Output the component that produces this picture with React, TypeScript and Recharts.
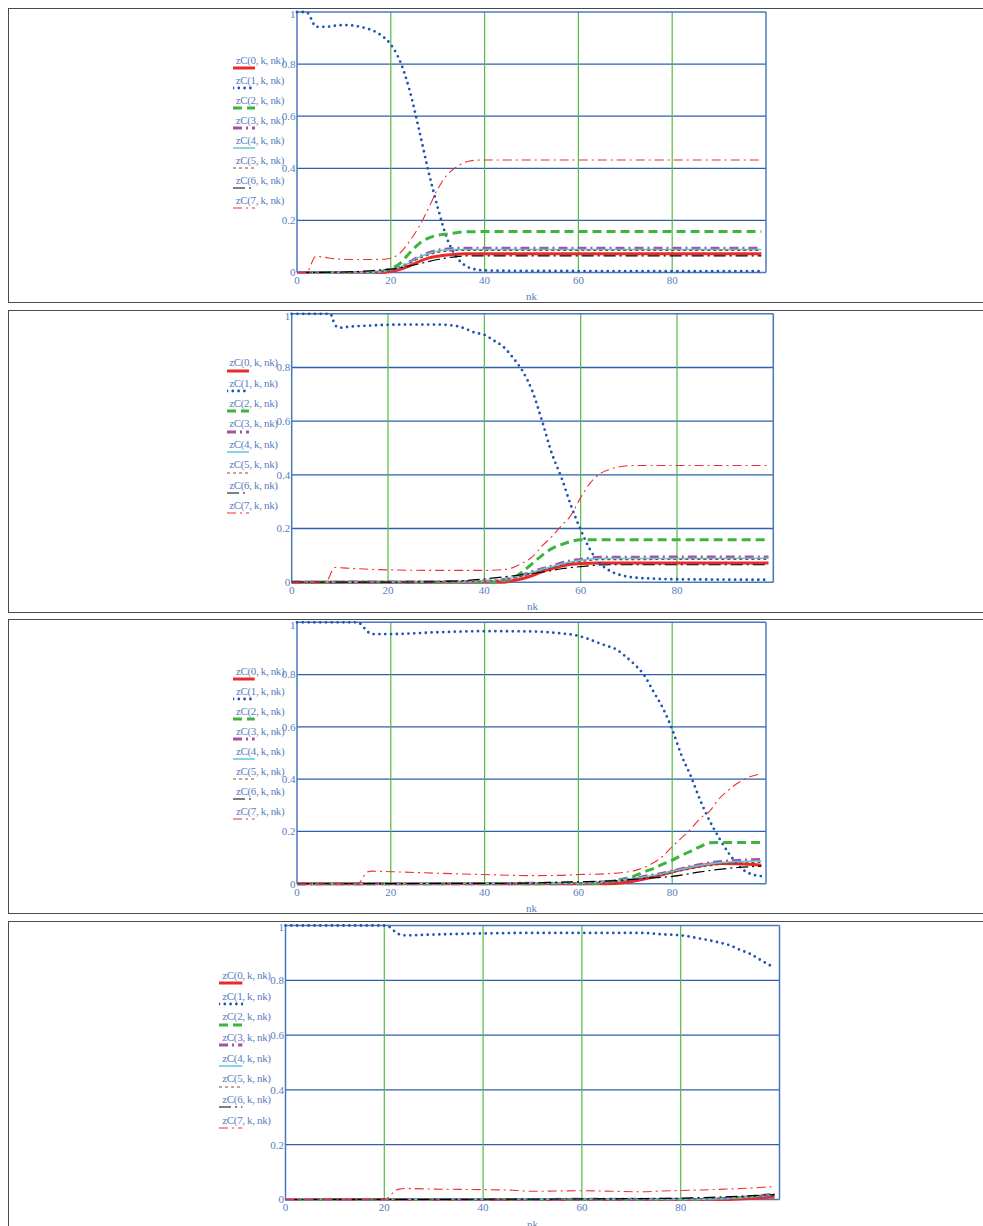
import React from 'react';
import { LineChart, Line, XAxis, YAxis, ReferenceLine, Legend } from 'recharts';

type Pt = [number, number];

// ---- tick labels / categories ----
const xTicks = [0, 20, 40, 60, 80];
const yTicks = [0, 0.2, 0.4, 0.6, 0.8, 1];
const vGrid = [20, 40, 60, 80];
const hGrid = [0.2, 0.4, 0.6, 0.8];
const seriesNames = ['zC(0, k, nk)', 'zC(1, k, nk)', 'zC(2, k, nk)', 'zC(3, k, nk)', 'zC(4, k, nk)', 'zC(5, k, nk)', 'zC(6, k, nk)', 'zC(7, k, nk)'];

// ---- panel 1 ----
const p1z0: Pt[] = [[0,0],[18,0],[20,0.004],[22,0.012],[24,0.025],[26,0.042],[28,0.055],[30,0.062],[32,0.067],[34,0.07],[36,0.072],[99,0.072]];
const p1z1: Pt[] = [[0,1],[2,1],[3,0.975],[4,0.943],[6,0.943],[8,0.947],[10,0.95],[12,0.948],[14,0.941],[16,0.93],[18,0.91],[20,0.875],[22,0.81],[24,0.7],[26,0.55],[28,0.39],[30,0.25],[32,0.13],[34,0.06],[36,0.025],[38,0.012],[40,0.008],[50,0.006],[99,0.005]];
const p1z2: Pt[] = [[0,0],[16,0],[18,0.005],[20,0.015],[22,0.035],[24,0.075],[26,0.11],[28,0.132],[30,0.143],[32,0.148],[34,0.153],[36,0.156],[40,0.157],[99,0.157]];
const p1z3: Pt[] = [[0,0],[16,0],[18,0.003],[20,0.01],[22,0.02],[24,0.04],[26,0.06],[28,0.075],[30,0.085],[32,0.09],[34,0.093],[99,0.093]];
const p1z4: Pt[] = [[0,0],[16,0],[18,0.003],[20,0.01],[22,0.02],[24,0.038],[26,0.058],[28,0.072],[30,0.082],[32,0.087],[34,0.088],[99,0.088]];
const p1z5: Pt[] = [[0,0],[16,0],[18,0.003],[20,0.008],[22,0.018],[24,0.035],[26,0.053],[28,0.067],[30,0.077],[32,0.082],[34,0.085],[99,0.085]];
const p1z6: Pt[] = [[0,0],[10,0.002],[14,0.005],[18,0.01],[20,0.013],[22,0.018],[24,0.025],[26,0.033],[28,0.042],[30,0.05],[32,0.056],[34,0.061],[36,0.064],[99,0.064]];
const p1z7: Pt[] = [[0,0],[2,0],[4,0.062],[6,0.058],[8,0.053],[12,0.05],[16,0.05],[19,0.052],[20,0.055],[22,0.075],[24,0.12],[26,0.175],[28,0.245],[30,0.32],[32,0.375],[34,0.405],[36,0.424],[38,0.431],[40,0.432],[99,0.432]];

// ---- panel 2 ----
const p2z0: Pt[] = [[0,0],[44,0],[46,0.006],[48,0.014],[50,0.025],[52,0.04],[54,0.05],[56,0.06],[58,0.067],[60,0.07],[64,0.072],[99,0.072]];
const p2z1: Pt[] = [[0,1],[8,1],[9,0.958],[10,0.948],[12,0.952],[16,0.956],[20,0.959],[24,0.96],[30,0.96],[34,0.955],[36,0.945],[38,0.93],[40,0.922],[42,0.9],[44,0.876],[46,0.835],[48,0.785],[50,0.71],[52,0.6],[54,0.48],[56,0.39],[58,0.285],[60,0.195],[62,0.12],[64,0.07],[66,0.043],[68,0.028],[70,0.02],[74,0.014],[80,0.011],[99,0.009]];
const p2z2: Pt[] = [[0,0],[42,0],[44,0.005],[46,0.015],[48,0.04],[50,0.07],[52,0.1],[54,0.125],[56,0.14],[58,0.152],[60,0.158],[99,0.158]];
const p2z3: Pt[] = [[0,0],[38,0.002],[40,0.004],[44,0.01],[46,0.018],[48,0.028],[50,0.04],[52,0.05],[54,0.06],[56,0.072],[58,0.08],[60,0.085],[62,0.09],[64,0.093],[99,0.094]];
const p2z4: Pt[] = [[0,0],[38,0.002],[40,0.004],[44,0.01],[46,0.017],[48,0.026],[50,0.037],[52,0.048],[54,0.058],[56,0.068],[58,0.076],[60,0.082],[62,0.086],[64,0.088],[99,0.089]];
const p2z5: Pt[] = [[0,0],[38,0.002],[40,0.004],[44,0.009],[46,0.015],[48,0.023],[50,0.033],[52,0.043],[54,0.053],[56,0.063],[58,0.071],[60,0.077],[62,0.081],[64,0.084],[99,0.085]];
const p2z6: Pt[] = [[0,0],[28,0.001],[32,0.003],[36,0.006],[40,0.012],[44,0.02],[48,0.028],[52,0.037],[56,0.05],[60,0.058],[64,0.064],[66,0.065],[99,0.065]];
const p2z7: Pt[] = [[0,0],[7,0],[9,0.055],[10,0.054],[14,0.05],[20,0.046],[30,0.044],[40,0.044],[44,0.047],[46,0.055],[48,0.072],[50,0.095],[52,0.135],[54,0.17],[56,0.21],[58,0.25],[60,0.315],[62,0.37],[64,0.404],[66,0.42],[68,0.43],[70,0.434],[72,0.435],[99,0.435]];

// ---- panel 3 ----
const p3z0: Pt[] = [[0,0],[66,0],[70,0.005],[74,0.018],[78,0.035],[82,0.054],[86,0.069],[90,0.077],[94,0.076],[99,0.071]];
const p3z1: Pt[] = [[0,1],[13,1],[14,0.985],[15,0.965],[16,0.955],[20,0.955],[30,0.962],[40,0.966],[50,0.965],[56,0.958],[60,0.948],[62,0.937],[64,0.923],[66,0.91],[68,0.897],[70,0.87],[72,0.838],[74,0.798],[76,0.735],[78,0.672],[80,0.59],[82,0.49],[84,0.41],[86,0.318],[88,0.24],[90,0.175],[92,0.118],[94,0.072],[96,0.043],[99,0.029]];
const p3z2: Pt[] = [[0,0],[62,0],[66,0.006],[70,0.02],[72,0.03],[74,0.045],[76,0.058],[78,0.075],[80,0.09],[82,0.108],[84,0.125],[86,0.142],[88,0.157],[90,0.158],[99,0.158]];
const p3z3: Pt[] = [[0,0],[60,0.002],[66,0.008],[70,0.015],[74,0.028],[78,0.04],[80,0.048],[84,0.066],[88,0.08],[92,0.087],[96,0.091],[99,0.093]];
const p3z4: Pt[] = [[0,0],[60,0.002],[66,0.008],[70,0.015],[74,0.026],[78,0.038],[82,0.055],[86,0.07],[90,0.08],[94,0.085],[99,0.088]];
const p3z5: Pt[] = [[0,0],[60,0.002],[66,0.006],[70,0.012],[74,0.022],[78,0.035],[82,0.05],[86,0.063],[90,0.073],[94,0.078],[99,0.082]];
const p3z6: Pt[] = [[0,0],[48,0.002],[56,0.006],[62,0.008],[68,0.012],[74,0.02],[80,0.028],[86,0.045],[90,0.055],[94,0.062],[99,0.067]];
const p3z7: Pt[] = [[0,0],[13,0],[15,0.045],[16,0.048],[20,0.046],[30,0.04],[40,0.035],[50,0.031],[56,0.032],[60,0.035],[66,0.038],[70,0.044],[72,0.05],[74,0.062],[76,0.08],[78,0.105],[80,0.142],[82,0.175],[84,0.21],[86,0.25],[88,0.278],[90,0.325],[92,0.358],[94,0.385],[96,0.405],[99,0.42]];

// ---- panel 4 ----
const p4z0: Pt[] = [[0,0],[88,0],[92,0.002],[95,0.005],[99,0.009]];
const p4z1: Pt[] = [[0,1],[20,1],[21,0.995],[22,0.98],[23,0.968],[24,0.964],[30,0.967],[40,0.971],[50,0.973],[60,0.973],[72,0.973],[76,0.968],[80,0.964],[84,0.952],[88,0.937],[90,0.927],[92,0.911],[94,0.897],[96,0.876],[99,0.845]];
const p4z2: Pt[] = [[0,0],[84,0],[88,0.003],[92,0.007],[95,0.012],[99,0.02]];
const p4z3: Pt[] = [[0,0],[84,0.001],[90,0.005],[94,0.01],[99,0.018]];
const p4z4: Pt[] = [[0,0],[84,0.001],[90,0.005],[94,0.009],[99,0.016]];
const p4z5: Pt[] = [[0,0],[80,0.002],[90,0.006],[99,0.015]];
const p4z6: Pt[] = [[0,0],[60,0.002],[70,0.003],[80,0.005],[86,0.008],[92,0.012],[99,0.018]];
const p4z7: Pt[] = [[0,0],[20,0],[21,0.01],[22,0.03],[23,0.038],[24,0.04],[30,0.038],[40,0.036],[46,0.034],[50,0.03],[60,0.032],[66,0.03],[72,0.028],[76,0.031],[80,0.033],[86,0.036],[92,0.04],[96,0.044],[99,0.047]];

const FONT = '"Liberation Serif", "Times New Roman", serif';
const TEXT_COLOR = '#5a7dbd';
const AXIS_H = 30;
const AXIS_W = 40;

type Style = { stroke: string; width: number; dash?: string; cap?: 'round' | 'butt' };
const styles: Style[] = [
  { stroke: '#ea2a2a', width: 3 },
  { stroke: '#1f55b0', width: 2.8, dash: '0 5.8', cap: 'round' },
  { stroke: '#3db43d', width: 3, dash: '9 5' },
  { stroke: '#a950a4', width: 3, dash: '9 4 2 4' },
  { stroke: '#5cc8dc', width: 1.5 },
  { stroke: '#8b4a2b', width: 1.2, dash: '3 3' },
  { stroke: '#000000', width: 1.2, dash: '12 4 2 4' },
  { stroke: '#ee3030', width: 1.1, dash: '9 4 2 4' },
];

type PanelCfg = {
  frameTop: number; frameBottom: number;
  plotL: number; plotR: number; plotT: number; plotB: number;
  lineLeft: number; textLeft: number; lineRight: number; firstText: number; step: number;
  labelCenter: number;
  series: Pt[][];
};

const panels: PanelCfg[] = [
  { frameTop: 8, frameBottom: 303, plotL: 297, plotR: 766, plotT: 12, plotB: 272.5,
    lineLeft: 233, textLeft: 235.7, lineRight: 255, firstText: 60, step: 20, labelCenter: 296,
    series: [p1z0, p1z1, p1z2, p1z3, p1z4, p1z5, p1z6, p1z7] },
  { frameTop: 309.5, frameBottom: 613, plotL: 291.7, plotR: 773.3, plotT: 313.3, plotB: 581.7,
    lineLeft: 226.7, textLeft: 229.3, lineRight: 249, firstText: 362.3, step: 20.4, labelCenter: 606,
    series: [p2z0, p2z1, p2z2, p2z3, p2z4, p2z5, p2z6, p2z7] },
  { frameTop: 619, frameBottom: 913.5, plotL: 297, plotR: 766, plotT: 622.3, plotB: 883.7,
    lineLeft: 233.3, textLeft: 236, lineRight: 255, firstText: 671, step: 20, labelCenter: 908.3,
    series: [p3z0, p3z1, p3z2, p3z3, p3z4, p3z5, p3z6, p3z7] },
  { frameTop: 920.5, frameBottom: 1400, plotL: 285.5, plotR: 779.5, plotT: 925, plotB: 1199,
    lineLeft: 219.3, textLeft: 222.3, lineRight: 242.7, firstText: 975, step: 20.7, labelCenter: 1224,
    series: [p4z0, p4z1, p4z2, p4z3, p4z4, p4z5, p4z6, p4z7] },
];

function LegendBox({ cfg }: { cfg: PanelCfg }) {
  const w = cfg.lineRight - cfg.lineLeft;
  return (
    <div style={{ position: 'relative', width: 80, fontFamily: FONT }}>
      {seriesNames.map((name, i) => {
        const s = styles[i];
        return (
          <div key={name} style={{ position: 'relative', height: cfg.step }}>
            <div style={{ position: 'absolute', left: cfg.textLeft - cfg.lineLeft, top: 0, fontSize: 11, lineHeight: '12px', letterSpacing: '-0.35px', whiteSpace: 'nowrap', color: TEXT_COLOR }}>{name}</div>
            <svg style={{ position: 'absolute', left: 0, top: 6 + 8.3 - 3 }} width={w} height={6}>
              <line x1={0} x2={w} y1={3} y2={3} stroke={s.stroke} strokeWidth={s.width} strokeDasharray={s.dash} strokeLinecap={s.cap || 'butt'} />
            </svg>
          </div>
        );
      })}
    </div>
  );
}

function Panel({ cfg }: { cfg: PanelCfg }) {
  const chartTop = cfg.frameTop;
  const chartH = Math.min(cfg.frameBottom, 1226) - chartTop;
  const W = 983;
  const tickStyle = { fill: TEXT_COLOR, fontSize: 11, fontFamily: FONT };
  const gridBlue = '#2f5faf';
  const gridGreen = '#55bb44';
  const border = '#4a78c0';
  return (
    <>
      <div style={{ position: 'absolute', left: 8, top: cfg.frameTop, width: 1100, height: cfg.frameBottom - cfg.frameTop, border: '1.5px solid #4a4a4a', boxSizing: 'border-box' }} />
      <div style={{ position: 'absolute', left: 0, top: chartTop }}>
        <LineChart width={W} height={chartH}
          margin={{ left: cfg.plotL - AXIS_W, right: W - cfg.plotR, top: cfg.plotT - chartTop, bottom: chartTop + chartH - cfg.plotB - AXIS_H }}>
          <XAxis type="number" dataKey="x" domain={[0, 100]} ticks={xTicks} height={AXIS_H} tickSize={0} tickMargin={4}
            axisLine={false} tickLine={false} tick={tickStyle} allowDuplicatedCategory={false}
            label={{ value: 'nk', position: 'insideTop', offset: cfg.labelCenter - cfg.plotB - 4.3, fill: TEXT_COLOR, fontSize: 11, fontFamily: FONT }} />
          <YAxis type="number" domain={[0, 1]} ticks={yTicks} width={AXIS_W} tickSize={0} tickMargin={1.5}
            axisLine={false} tickLine={false} tick={tickStyle} tickFormatter={(v: number) => String(v)} />
          {hGrid.map((v) => (
            <ReferenceLine key={'h' + v} y={v} stroke={gridBlue} strokeWidth={1.3} />
          ))}
          {vGrid.map((v) => (
            <ReferenceLine key={'v' + v} x={v} stroke={gridGreen} strokeWidth={1.2} />
          ))}
          <ReferenceLine y={0} stroke={border} strokeWidth={1.5} />
          <ReferenceLine y={1} stroke={border} strokeWidth={1.5} />
          <ReferenceLine x={0} stroke={border} strokeWidth={1.5} />
          <ReferenceLine x={100} stroke={border} strokeWidth={1.5} />
          <Legend layout="vertical" align="center" verticalAlign="middle"
            wrapperStyle={{ left: cfg.lineLeft, top: cfg.firstText - 6 - chartTop, width: 80 }}
            content={() => <LegendBox cfg={cfg} />} />
          {cfg.series.map((pts, i) => {
            const s = styles[i];
            return (
              <Line key={i} data={pts.map(([x, y]) => ({ x, y }))} dataKey="y" type="monotone"
                stroke={s.stroke} strokeWidth={s.width} strokeDasharray={s.dash} strokeLinecap={s.cap || 'butt'}
                dot={false} activeDot={false} isAnimationActive={false} legendType="none" name={seriesNames[i]} />
            );
          })}
        </LineChart>
      </div>
    </>
  );
}

export default function App() {
  return (
    <div style={{ position: 'absolute', left: 0, top: 0, width: 983, height: 1226, overflow: 'hidden', background: '#fff', fontFamily: FONT }}>
      {panels.map((p, i) => (
        <Panel key={i} cfg={p} />
      ))}
    </div>
  );
}
